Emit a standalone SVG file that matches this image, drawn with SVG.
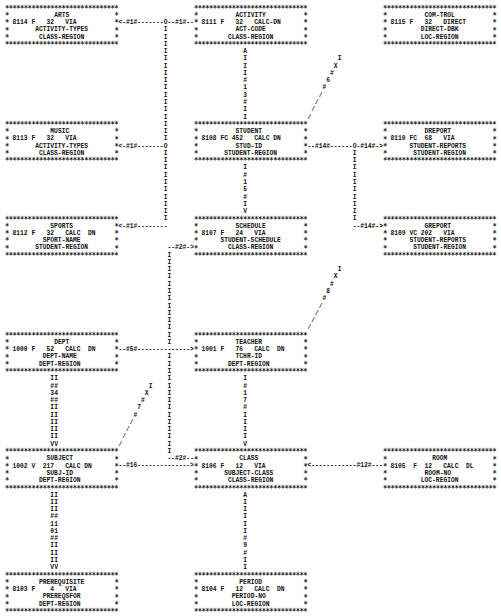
<svg xmlns="http://www.w3.org/2000/svg" width="501" height="616" viewBox="0 0 501 616">
<style>
.t{font-family:"Liberation Mono","DejaVu Sans Mono",monospace;font-size:7.5px;font-weight:bold;fill:#111;white-space:pre}
.s{font-family:"DejaVu Sans Mono","Liberation Mono",monospace;font-size:8.5px;font-weight:bold;fill:#111;letter-spacing:-0.617px;white-space:pre}
</style>
<rect width="501" height="616" fill="#fff"/>
<defs>
<text id="bd" class="s" y="1.3">******************************</text>
<text id="sd" class="s" x="0 130.5 0 130.5 0 130.5 0 130.5" y="8.57 8.57 15.84 15.84 23.11 23.11 30.38 30.38">********</text>
</defs>
<g transform="scale(0.84 1)">
<g id="arts" transform="translate(5.95 9.5)"><use href="#bd"/><use href="#bd" y="36.35"/><use href="#sd"/>
<text class="t" x="58.5" y="7.27">ARTS</text><text class="t" x="9" y="14.54">8114 F   32   VIA</text><text class="t" x="36" y="21.81">ACTIVITY-TYPES</text><text class="t" x="40.5" y="29.08">CLASS-REGION</text></g>
<g id="activity" transform="translate(230.95 9.5)"><use href="#bd"/><use href="#bd" y="36.35"/><use href="#sd"/>
<text class="t" x="49.5" y="7.27">ACTIVITY</text><text class="t" x="9" y="14.54">8111 F   32   CALC-DN</text><text class="t" x="49.5" y="21.81">ACT-CODE</text><text class="t" x="40.5" y="29.08">CLASS-REGION</text></g>
<g id="comtrol" transform="translate(455.95 9.5)"><use href="#bd"/><use href="#bd" y="36.35"/><use href="#sd"/>
<text class="t" x="49.5" y="7.27">COM-TROL</text><text class="t" x="9" y="14.54">8115 F   32   DIRECT</text><text class="t" x="45" y="21.81">DIRECT-DBK</text><text class="t" x="45" y="29.08">LOC-REGION</text></g>
<g id="music" transform="translate(5.95 125.82)"><use href="#bd"/><use href="#bd" y="36.35"/><use href="#sd"/>
<text class="t" x="54" y="7.27">MUSIC</text><text class="t" x="9" y="14.54">8113 F   32   VIA</text><text class="t" x="36" y="21.81">ACTIVITY-TYPES</text><text class="t" x="40.5" y="29.08">CLASS-REGION</text></g>
<g id="student" transform="translate(230.95 125.82)"><use href="#bd"/><use href="#bd" y="36.35"/><use href="#sd"/>
<text class="t" x="49.5" y="7.27">STUDENT</text><text class="t" x="9" y="14.54">8108 FC 452   CALC DN</text><text class="t" x="49.5" y="21.81">STUD-ID</text><text class="t" x="36" y="29.08">STUDENT-REGION</text></g>
<g id="dreport" transform="translate(455.95 125.82)"><use href="#bd"/><use href="#bd" y="36.35"/><use href="#sd"/>
<text class="t" x="49.5" y="7.27">DREPORT</text><text class="t" x="9" y="14.54">8110 FC  68   VIA</text><text class="t" x="31.5" y="21.81">STUDENT-REPORTS</text><text class="t" x="36" y="29.08">STUDENT-REGION</text></g>
<g id="sports" transform="translate(5.95 220.33)"><use href="#bd"/><use href="#bd" y="36.35"/><use href="#sd"/>
<text class="t" x="54" y="7.27">SPORTS</text><text class="t" x="9" y="14.54">8112 F   32   CALC  DN</text><text class="t" x="45" y="21.81">SPORT-NAME</text><text class="t" x="36" y="29.08">STUDENT-REGION</text></g>
<g id="schedule" transform="translate(230.95 220.33)"><use href="#bd"/><use href="#bd" y="36.35"/><use href="#sd"/>
<text class="t" x="49.5" y="7.27">SCHEDULE</text><text class="t" x="9" y="14.54">8107 F   24   VIA</text><text class="t" x="31.5" y="21.81">STUDENT-SCHEDULE</text><text class="t" x="40.5" y="29.08">CLASS-REGION</text></g>
<g id="greport" transform="translate(455.95 220.33)"><use href="#bd"/><use href="#bd" y="36.35"/><use href="#sd"/>
<text class="t" x="49.5" y="7.27">GREPORT</text><text class="t" x="9" y="14.54">8109 VC 202   VIA</text><text class="t" x="31.5" y="21.81">STUDENT-REPORTS</text><text class="t" x="36" y="29.08">STUDENT-REGION</text></g>
<g id="dept" transform="translate(5.95 336.65)"><use href="#bd"/><use href="#bd" y="36.35"/><use href="#sd"/>
<text class="t" x="58.5" y="7.27">DEPT</text><text class="t" x="9" y="14.54">1000 F   52   CALC  DN</text><text class="t" x="45" y="21.81">DEPT-NAME</text><text class="t" x="40.5" y="29.08">DEPT-REGION</text></g>
<g id="teacher" transform="translate(230.95 336.65)"><use href="#bd"/><use href="#bd" y="36.35"/><use href="#sd"/>
<text class="t" x="49.5" y="7.27">TEACHER</text><text class="t" x="9" y="14.54">1001 F   76   CALC  DN</text><text class="t" x="49.5" y="21.81">TCHR-ID</text><text class="t" x="40.5" y="29.08">DEPT-REGION</text></g>
<g id="subject" transform="translate(5.95 452.97)"><use href="#bd"/><use href="#bd" y="36.35"/><use href="#sd"/>
<text class="t" x="49.5" y="7.27">SUBJECT</text><text class="t" x="9" y="14.54">1002 V  217   CALC DN</text><text class="t" x="49.5" y="21.81">SUBJ-ID</text><text class="t" x="40.5" y="29.08">DEPT-REGION</text></g>
<g id="class" transform="translate(230.95 452.97)"><use href="#bd"/><use href="#bd" y="36.35"/><use href="#sd"/>
<text class="t" x="54" y="7.27">CLASS</text><text class="t" x="9" y="14.54">8106 F   12   VIA</text><text class="t" x="36" y="21.81">SUBJECT-CLASS</text><text class="t" x="40.5" y="29.08">CLASS-REGION</text></g>
<g id="room" transform="translate(455.95 452.97)"><use href="#bd"/><use href="#bd" y="36.35"/><use href="#sd"/>
<text class="t" x="58.5" y="7.27">ROOM</text><text class="t" x="9" y="14.54">8105  F  12   CALC  DL</text><text class="t" x="49.5" y="21.81">ROOM-NO</text><text class="t" x="45" y="29.08">LOC-REGION</text></g>
<g id="prerequisite" transform="translate(5.95 576.56)"><use href="#bd"/><use href="#bd" y="36.35"/><use href="#sd"/>
<text class="t" x="40.5" y="7.27">PREREQUISITE</text><text class="t" x="9" y="14.54">8103 F    4   VIA</text><text class="t" x="45" y="21.81">PREREQSFOR</text><text class="t" x="40.5" y="29.08">DEPT-REGION</text></g>
<g id="period" transform="translate(230.95 576.56)"><use href="#bd"/><use href="#bd" y="36.35"/><use href="#sd"/>
<text class="t" x="54" y="7.27">PERIOD</text><text class="t" x="9" y="14.54">8104 F   12   CALC  DN</text><text class="t" x="45" y="21.81">PERIOD-NO</text><text class="t" x="45" y="29.08">LOC-REGION</text></g>
<g id="connectors">
<text class="t" x="140.95" y="24.04">&lt;-#1#-------O--#1#--</text>
<text class="t" x="140.95" y="147.63">&lt;-#1#-------O</text>
<text class="t" x="365.95" y="147.63">--#14#------O-#14#-&gt;</text>
<text class="t" x="140.95" y="227.6">&lt;-#1#--------</text>
<text class="t" x="419.95" y="227.6">--#14#-&gt;</text>
<text class="t" x="199.45" y="249.41">--#2#-&gt;</text>
<text class="t" x="140.95" y="351.19">--#5#--------------&gt;</text>
<text class="t" x="199.45" y="460.24">--#2#--</text>
<text class="t" x="140.95" y="467.51">--#16--------------&gt;</text>
<text class="t" x="365.95" y="467.51">&lt;------------#12#---</text>
<text class="t" x="194.95 194.95 194.95 194.95 194.95 194.95 194.95 194.95 194.95 194.95 194.95 194.95 194.95 194.95 194.95 194.95" y="31.31 38.58 45.85 53.12 60.39 67.66 74.93 82.2 89.47 96.74 104.01 111.28 118.55 125.82 133.09 140.36">IIIIIIIIIIIIIIII</text>
<text class="t" x="194.95 194.95 194.95 194.95 194.95 194.95 194.95 194.95 194.95 194.95" y="154.9 162.17 169.44 176.71 183.98 191.25 198.52 205.79 213.06 220.33">IIIIIIIIII</text>
<text class="t" x="419.95 419.95 419.95 419.95 419.95 419.95 419.95 419.95 419.95 419.95" y="154.9 162.17 169.44 176.71 183.98 191.25 198.52 205.79 213.06 220.33">IIIIIIIIII</text>
<text class="t" x="199.45 199.45 199.45 199.45 199.45 199.45 199.45 199.45 199.45 199.45 199.45 199.45 199.45" y="256.68 263.95 271.22 278.49 285.76 293.03 300.3 307.57 314.84 322.11 329.38 336.65 343.92">IIIIIIIIIIIII</text>
<text class="t" x="199.45 199.45 199.45 199.45 199.45 199.45 199.45 199.45 199.45 199.45 199.45 199.45 199.45 199.45" y="358.46 365.73 373 380.27 387.54 394.81 402.08 409.35 416.62 423.89 431.16 438.43 445.7 452.97">IIIIIIIIIIIIII</text>
<text class="t" x="289.45 289.45 289.45 289.45 289.45 289.45 289.45 289.45 289.45 289.45" y="53.12 60.39 67.66 74.93 82.2 89.47 96.74 104.01 111.28 118.55">AIII#13#II</text>
<text class="t" x="289.45 289.45 289.45 289.45 289.45 289.45 289.45" y="169.44 176.71 183.98 191.25 198.52 205.79 213.06">I#15#IV</text>
<text class="t" x="289.45 289.45 289.45 289.45 289.45 289.45 289.45 289.45 289.45 289.45" y="380.27 387.54 394.81 402.08 409.35 416.62 423.89 431.16 438.43 445.7">I#17#IIIIV</text>
<text class="t" x="289.45 289.45 289.45 289.45 289.45 289.45 289.45 289.45 289.45 289.45 289.45" y="496.59 503.86 511.13 518.4 525.67 532.94 540.21 547.48 554.75 562.02 569.29">AIIIII#9#II</text>
<text class="t" x="59.95 64.45 59.95 64.45 59.95 64.45 59.95 64.45 59.95 64.45 59.95 64.45 59.95 64.45 59.95 64.45 59.95 64.45 59.95 64.45" y="380.27 380.27 387.54 387.54 394.81 394.81 402.08 402.08 409.35 409.35 416.62 416.62 423.89 423.89 431.16 431.16 438.43 438.43 445.7 445.7">II##34##IIIIIIIIIIVV</text>
<text class="t" x="59.95 64.45 59.95 64.45 59.95 64.45 59.95 64.45 59.95 64.45 59.95 64.45 59.95 64.45 59.95 64.45 59.95 64.45 59.95 64.45 59.95 64.45" y="496.59 496.59 503.86 503.86 511.13 511.13 518.4 518.4 525.67 525.67 532.94 532.94 540.21 540.21 547.48 547.48 554.75 554.75 562.02 562.02 569.29 569.29">IIIIII##1101##IIIIIIVV</text>
<text class="t" x="401.95 397.45 392.95 388.45 383.95 379.45 374.95 370.45 365.95" y="60.39 67.66 74.93 82.2 89.47 96.74 104.01 111.28 118.55">IX#6#////</text>
<text class="t" x="401.95 397.45 392.95 388.45 383.95 379.45 374.95 370.45 365.95" y="271.22 278.49 285.76 293.03 300.3 307.57 314.84 322.11 329.38">IX#8#////</text>
<text class="t" x="176.95 172.45 167.95 163.45 158.95 154.45 149.95 145.45 140.95" y="387.54 394.81 402.08 409.35 416.62 423.89 431.16 438.43 445.7">IX#7#////</text>
</g>
</g>
</svg>
